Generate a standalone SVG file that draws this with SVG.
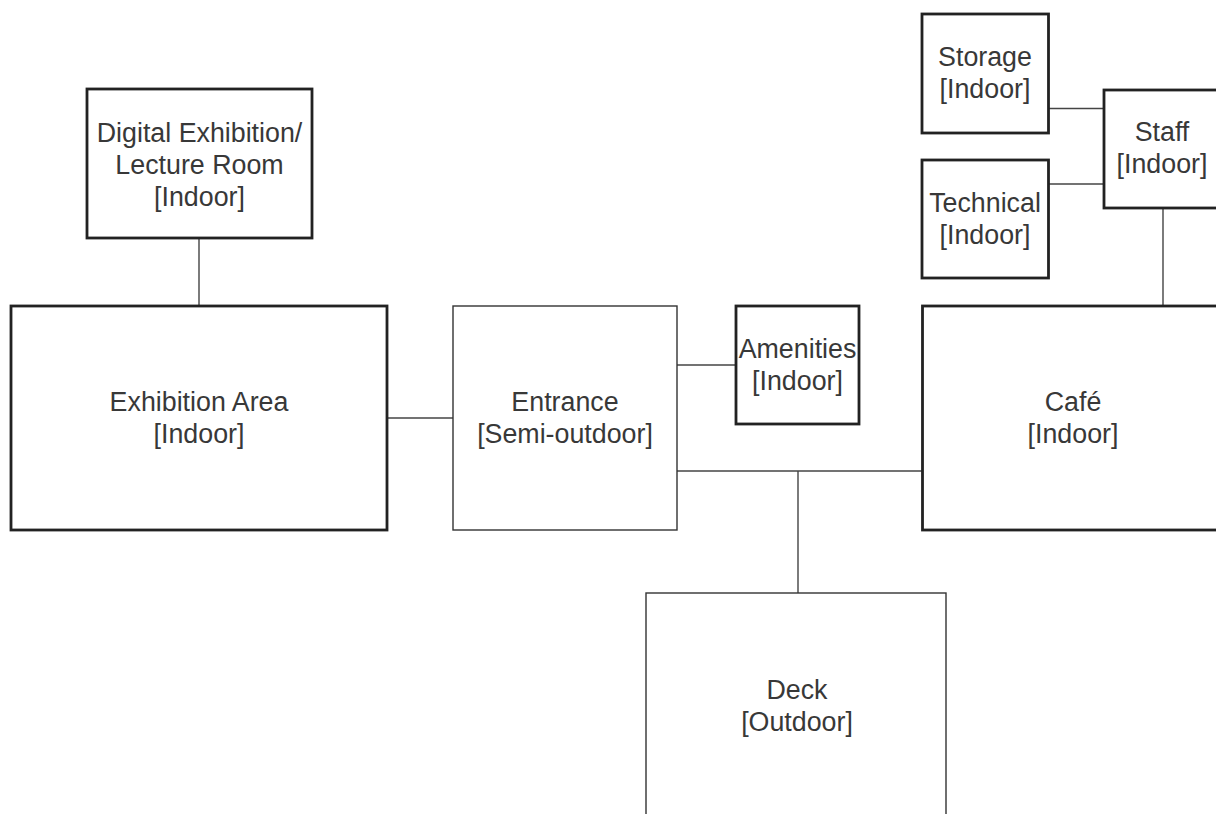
<svg xmlns="http://www.w3.org/2000/svg" width="1216" height="814" viewBox="0 0 1216 814">
<style>
  .room{fill:#fff;stroke:#222;stroke-width:2.8}
  .semi{fill:#fff;stroke:#333;stroke-width:1.4}
  .lbl{font-family:"Liberation Sans",Arial,sans-serif;font-size:26.8px;fill:#383838;text-anchor:middle}
  .conn{stroke:#444;stroke-width:1.4;fill:none}
</style>
<rect width="1216" height="814" fill="#fff"/>
<g id="connectors">
  <line class="conn" x1="199" y1="238" x2="199" y2="306"/>
  <line class="conn" x1="387" y1="418" x2="453" y2="418"/>
  <line class="conn" x1="677" y1="365" x2="736" y2="365"/>
  <line class="conn" x1="677" y1="471" x2="922" y2="471"/>
  <line class="conn" x1="798" y1="471" x2="798" y2="593"/>
  <line class="conn" x1="1163" y1="208" x2="1163" y2="306"/>
  <line class="conn" x1="1048" y1="108.5" x2="1104" y2="108.5"/>
  <line class="conn" x1="1048" y1="184" x2="1104" y2="184"/>
</g>
<g id="digital">
  <rect class="room" x="87" y="89" width="225" height="149"/>
  <text class="lbl" x="199.5" y="142">Digital Exhibition/</text>
  <text class="lbl" x="199.5" y="174">Lecture Room</text>
  <text class="lbl" x="199.5" y="206">[Indoor]</text>
</g>
<g id="exhibition">
  <rect class="room" x="11" y="306" width="376" height="224"/>
  <text class="lbl" x="199" y="411">Exhibition Area</text>
  <text class="lbl" x="199" y="443">[Indoor]</text>
</g>
<g id="entrance">
  <rect class="semi" x="453" y="306" width="224" height="224"/>
  <text class="lbl" x="565" y="411">Entrance</text>
  <text class="lbl" x="565" y="443">[Semi-outdoor]</text>
</g>
<g id="amenities">
  <rect class="room" x="736" y="306" width="123" height="118"/>
  <text class="lbl" x="797.5" y="358">Amenities</text>
  <text class="lbl" x="797.5" y="390">[Indoor]</text>
</g>
<g id="cafe">
  <rect class="room" x="922.5" y="306" width="302" height="224"/>
  <text class="lbl" x="1073" y="411">Café</text>
  <text class="lbl" x="1073" y="443">[Indoor]</text>
</g>
<g id="deck">
  <rect class="semi" x="646" y="593" width="300" height="226"/>
  <text class="lbl" x="797" y="699">Deck</text>
  <text class="lbl" x="797" y="731">[Outdoor]</text>
</g>
<g id="storage">
  <rect class="room" x="922" y="14" width="126.5" height="119"/>
  <text class="lbl" x="985" y="66">Storage</text>
  <text class="lbl" x="985" y="98">[Indoor]</text>
</g>
<g id="technical">
  <rect class="room" x="922" y="160" width="126.5" height="118"/>
  <text class="lbl" x="985" y="212">Technical</text>
  <text class="lbl" x="985" y="244">[Indoor]</text>
</g>
<g id="staff">
  <rect class="room" x="1104" y="90" width="120" height="118"/>
  <text class="lbl" x="1162" y="141">Staff</text>
  <text class="lbl" x="1162" y="173">[Indoor]</text>
</g>
</svg>
